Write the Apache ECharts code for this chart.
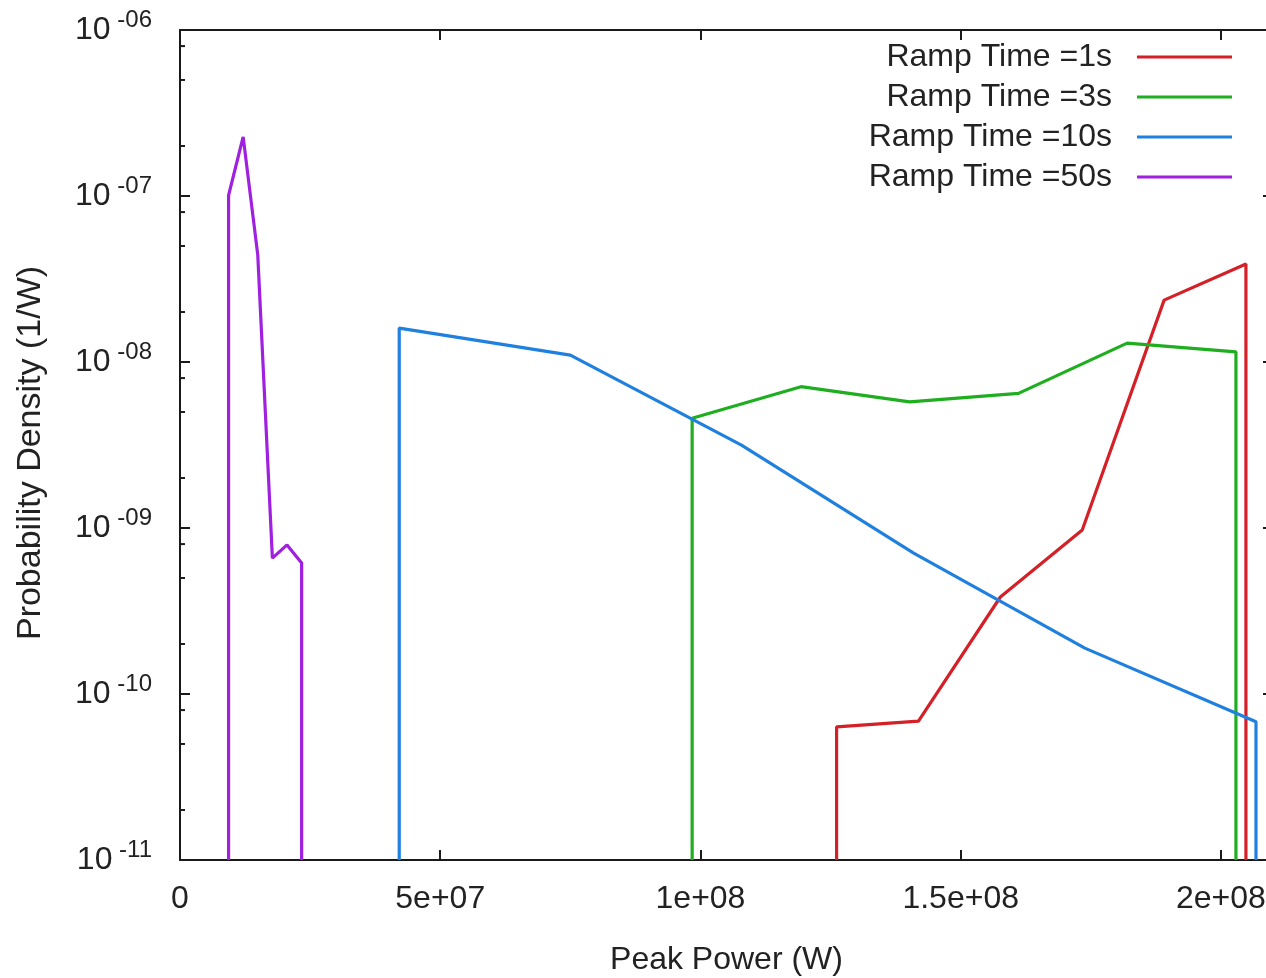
<!DOCTYPE html>
<html>
<head>
<meta charset="utf-8">
<script src="https://cdn.jsdelivr.net/npm/echarts@6/dist/echarts.min.js"></script>
<style>
  html, body { margin: 0; padding: 0; background: #ffffff; }
  #chart { width: 1266px; height: 978px; }
</style>
</head>
<body>
<div id="chart"></div>
<script>
// ---- data ----
const seriesNames = ['Ramp Time =1s', 'Ramp Time =3s', 'Ramp Time =10s', 'Ramp Time =50s'];

const floorValue = 1e-11; // lines drop to the bottom of the plot at both ends

const power1s   = [1.2615e8, 1.4188e8, 1.5762e8, 1.7335e8, 1.8908e8, 2.048e8];
const density1s = [6.33e-11, 6.87e-11, 3.84e-10, 9.72e-10, 2.36e-8, 3.89e-8];

const power3s   = [9.84e7, 1.1931e8, 1.4019e8, 1.611e8, 1.8198e8, 2.0288e8];
const density3s = [4.58e-9, 7.10e-9, 5.75e-9, 6.47e-9, 1.30e-8, 1.15e-8];

const power10s   = [4.212e7, 7.5e7, 1.0788e8, 1.4096e8, 1.7385e8, 2.0673e8];
const density10s = [1.60e-8, 1.10e-8, 3.16e-9, 7.06e-10, 1.89e-10, 6.81e-11];

const power50s   = [9.33e6, 1.2135e7, 1.494e7, 1.775e7, 2.056e7, 2.337e7];
const density50s = [1.01e-7, 2.27e-7, 4.42e-8, 6.59e-10, 7.91e-10, 6.15e-10];

const xTickValues = [0, 5e7, 1e8, 1.5e8, 2e8];
const xTickLabels = ['0', '5e+07', '1e+08', '1.5e+08', '2e+08'];
const yTickExponents = [-11, -10, -9, -8, -7, -6];
const yTickLabels = ['-11', '-10', '-09', '-08', '-07', '-06'];
const yMinorTicks = [2e-11, 5e-11, 8e-11, 2e-10, 5e-10, 8e-10, 2e-9, 5e-9, 8e-9,
                     2e-8, 5e-8, 8e-8, 2e-7, 5e-7, 8e-7];

const colors = ['#d42027', '#1fae1f', '#1f80e0', '#a020e0'];

// ---- build ----
function buildLine(xs, ys) {
  const pts = [[xs[0], floorValue]];
  for (let i = 0; i < xs.length; i++) pts.push([xs[i], ys[i]]);
  pts.push([xs[xs.length - 1], floorValue]);
  return pts;
}
const allX = [power1s, power3s, power10s, power50s];
const allY = [density1s, density3s, density10s, density50s];

const FONT = 'Liberation Sans';
const TXT = '#222222';
const AX = '#1a1a1a';

const chart = echarts.init(document.getElementById('chart'), null, { renderer: 'canvas' });

const lineSeries = seriesNames.map((name, i) => ({
  name: name,
  type: 'line',
  xAxisIndex: 0,
  yAxisIndex: 0,
  data: buildLine(allX[i], allY[i]),
  showSymbol: false,
  symbol: 'none',
  clip: true,
  lineStyle: { color: colors[i], width: 3.2 },
  itemStyle: { color: colors[i] },
  z: 3
}));

const option = {
  backgroundColor: '#ffffff',
  animation: false,
  grid: { left: 180, top: 30, width: 1093, height: 830, containLabel: false, outerBoundsMode: 'none' },
  legend: {
    data: seriesNames,
    orient: 'vertical',
    right: 29,
    top: 36,
    align: 'right',
    icon: 'rect',
    itemWidth: 95,
    itemHeight: 3,
    itemGap: 8,
    textStyle: { fontFamily: FONT, fontSize: 32, color: TXT, padding: [0, 20, 0, 0] }
  },
  xAxis: [{
    type: 'value',
    position: 'bottom',
    min: 0, max: 2.1e8, interval: 5e7,
    name: 'Peak Power (W)',
    nameLocation: 'middle',
    nameGap: 84,
    nameTextStyle: { fontFamily: FONT, fontSize: 32, color: TXT },
    axisLine: { show: true, onZero: false, lineStyle: { color: AX, width: 2 } },
    axisTick: { show: true, inside: true, length: 10, lineStyle: { color: AX, width: 2 } },
    axisLabel: {
      margin: 23, fontFamily: FONT, fontSize: 32, color: TXT,
      formatter: function (v) {
        for (let i = 0; i < xTickValues.length; i++) {
          if (Math.abs(v - xTickValues[i]) < 1) return xTickLabels[i];
        }
        return '';
      }
    },
    splitLine: { show: false }
  }, {
    type: 'value',
    position: 'top',
    min: 0, max: 2.1e8, interval: 5e7,
    axisLine: { show: true, onZero: false, lineStyle: { color: AX, width: 2 } },
    axisTick: { show: true, inside: true, length: 10, lineStyle: { color: AX, width: 2 } },
    axisLabel: { show: false },
    splitLine: { show: false }
  }],
  yAxis: [{
    type: 'log',
    logBase: 10,
    position: 'left',
    min: 1e-11, max: 1e-6,
    splitNumber: 5,
    name: 'Probability Density (1/W)',
    nameLocation: 'middle',
    nameRotate: 90,
    nameGap: 132,
    nameTextStyle: { fontFamily: FONT, fontSize: 34, color: TXT, padding: [0, 16, 0, 0] },
    axisLine: { show: true, onZero: false, lineStyle: { color: AX, width: 2 } },
    axisTick: { show: true, inside: true, length: 10, lineStyle: { color: AX, width: 2 } },
    axisLabel: {
      margin: 28,
      fontFamily: FONT, color: TXT,
      formatter: function (v) {
        const e = Math.round(Math.log10(v));
        const idx = yTickExponents.indexOf(e);
        if (idx < 0) return '';
        return '{b|10}{s| ' + yTickLabels[idx] + '}';
      },
      rich: {
        b: { fontFamily: FONT, fontSize: 32, color: TXT },
        s: { fontFamily: FONT, fontSize: 24, color: TXT, padding: [0, 0, 20, 0] }
      }
    },
    splitLine: { show: false }
  }, {
    type: 'log',
    logBase: 10,
    position: 'right',
    min: 1e-11, max: 1e-6,
    splitNumber: 5,
    axisLine: { show: true, onZero: false, lineStyle: { color: AX, width: 2 } },
    axisTick: { show: true, inside: true, length: 10, lineStyle: { color: AX, width: 2 } },
    axisLabel: { show: false },
    splitLine: { show: false }
  }],
  series: lineSeries.concat([{
    name: 'minorTicks',
    type: 'custom',
    xAxisIndex: 0,
    yAxisIndex: 0,
    silent: true,
    clip: false,
    z: 4,
    data: yMinorTicks.map(v => [0, v]),
    renderItem: function (params, api) {
      const p = api.coord([0, api.value(1)]);
      const q = api.coord([2.1e8, api.value(1)]);
      return {
        type: 'group',
        children: [
          { type: 'line', shape: { x1: p[0], y1: p[1], x2: p[0] + 5, y2: p[1] },
            style: { stroke: AX, lineWidth: 2 } },
          { type: 'line', shape: { x1: q[0], y1: q[1], x2: q[0] - 5, y2: q[1] },
            style: { stroke: AX, lineWidth: 2 } }
        ]
      };
    }
  }])
};

chart.setOption(option);
</script>
</body>
</html>
